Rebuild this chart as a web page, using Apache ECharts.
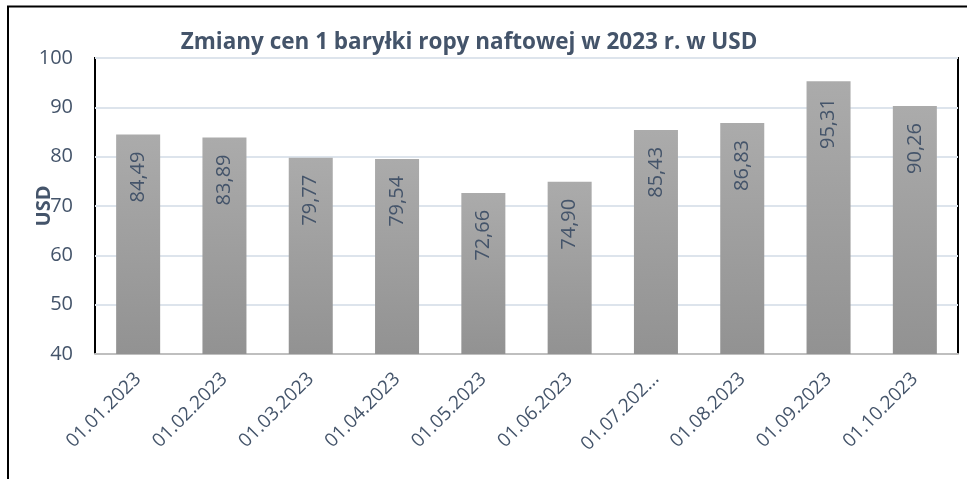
<!DOCTYPE html>
<html>
    <head>
        <meta charset="utf-8">
        <script src="https://cdn.jsdelivr.net/npm/echarts@6/dist/echarts.min.js"></script>
    </head>
    <body style="margin:0">
        <div id="main" style="width:967px;height:479px"></div>
        <script type="text/javascript">
            // data
            var dates = ['01.01.2023', '01.02.2023', '01.03.2023', '01.04.2023', '01.05.2023',
                         '01.06.2023', '01.07.202...', '01.08.2023', '01.09.2023', '01.10.2023']
            var prices = [84.49, 83.89, 79.77, 79.54, 72.66, 74.90, 85.43, 86.83, 95.31, 90.26]
            var yTicks = [40, 50, 60, 70, 80, 90, 100]

            var txt = '#44546A'
            var gL = 95, gT = 58, gR = 958, gB = 354

            var mycharts = echarts.init(document.getElementById('main'))
            var option = {
                backgroundColor: '#fff',
                animation: false,
                title: {
                    text: 'Zmiany cen 1 baryłki ropy naftowej w 2023 r. w USD',
                    left: 464, top: 26, textAlign: 'center',
                    textStyle: { color: txt, fontSize: 22.5, fontWeight: 'bold', fontFamily: 'Open Sans' }
                },
                grid: { left: gL, top: gT, right: 967 - gR, bottom: 479 - gB },
                xAxis: {
                    type: 'category',
                    data: dates,
                    axisLine: { lineStyle: { color: '#bfbfbf', width: 2 } },
                    axisTick: { show: false },
                    axisLabel: { rotate: 45, color: txt, fontSize: 19, fontFamily: 'Open Sans', margin: 22 }
                },
                yAxis: {
                    type: 'value',
                    min: yTicks[0], max: yTicks[yTicks.length - 1], interval: 10,
                    name: 'USD', nameLocation: 'middle', nameGap: 41, nameRotate: 90,
                    nameMoveOverlap: false,
                    nameTextStyle: { color: txt, fontSize: 20, fontWeight: 'bold', fontFamily: 'Open Sans' },
                    axisLine: { show: false },
                    axisTick: { show: false },
                    axisLabel: { color: txt, fontSize: 20, fontFamily: 'Open Sans', margin: 22 },
                    splitLine: { lineStyle: { color: '#dde4ec', width: 2 } }
                },
                series: [{
                    type: 'bar',
                    data: prices,
                    barWidth: '51%',
                    itemStyle: {
                        color: new echarts.graphic.LinearGradient(0, 0, 0, 1, [
                            { offset: 0, color: '#ababab' },
                            { offset: 1, color: '#929292' }
                        ])
                    },
                    label: {
                        show: true, position: 'insideTop', rotate: 90, align: 'right', verticalAlign: 'middle',
                        distance: 17,
                        color: txt, fontSize: 20, fontFamily: 'Open Sans',
                        formatter: function (p) { return p.value.toFixed(2).replace('.', ',') }
                    }
                }],
                graphic: [
                    { type: 'polyline', silent: true, shape: { points: [[8, 479], [8, 6.5], [967, 6.5]] },
                      style: { stroke: '#000', lineWidth: 2, fill: null } },
                    { type: 'polyline', silent: true, shape: { points: [[gL, gB], [gL, gT], [gR, gT], [gR, gB]] },
                      style: { stroke: '#000', lineWidth: 2, fill: null } }
                ]
            }
            mycharts.setOption(option)
        </script>
    </body>
</html>
